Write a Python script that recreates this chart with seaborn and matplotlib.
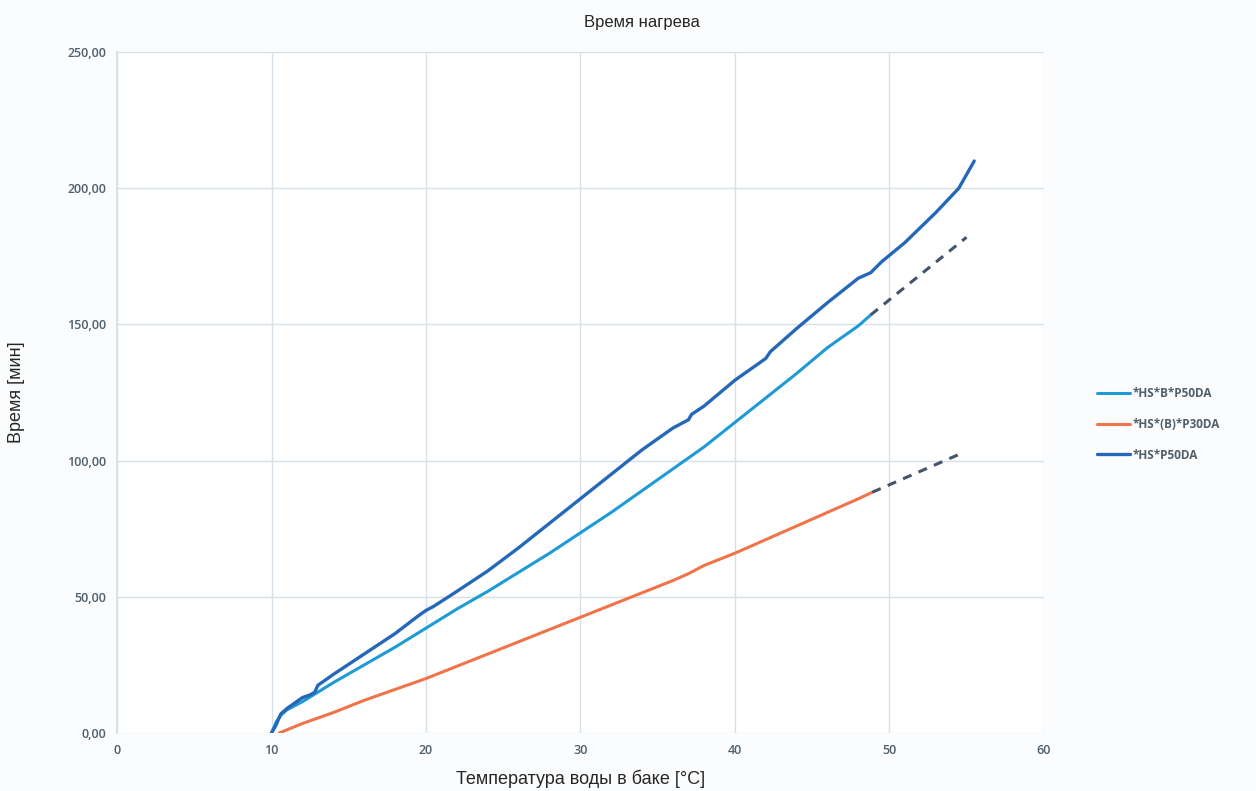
import numpy as np
import pandas as pd
import matplotlib
matplotlib.use("Agg")
import matplotlib.pyplot as plt
import seaborn as sns

# series: *HS*P50DA (dark blue)
temp_p50 = [10.0, 10.3, 10.6, 11.0, 11.5, 12.0, 12.5, 12.8, 13.0, 14, 16, 18, 19.5, 20, 20.5,
            22, 24, 26, 28, 30, 32, 34, 36, 37, 37.2, 38, 40, 42, 42.3, 44, 46, 48, 48.8,
            49.5, 51, 53, 54.5, 55.5]
time_p50 = [0, 3, 7, 9, 11, 13, 14, 15, 17.5, 21.5, 29, 36.5, 43, 45, 46.5,
            52, 59.5, 68, 77, 86, 95, 104, 112, 115, 117, 120, 129.5, 137.5, 140, 148.5, 158, 167, 169,
            173, 180, 191, 200, 210]

# series: *HS*B*P50DA (light blue) + dashed extension
temp_bp50 = [10.0, 10.3, 10.6, 11, 12, 13, 14, 16, 18, 20, 22, 24, 26, 28, 30, 32, 34, 36,
             37, 38, 40, 42, 44, 46, 48, 48.8]
time_bp50 = [0, 4, 6.5, 8.5, 11.5, 15, 18.5, 25, 31.5, 38.5, 45.5, 52, 59, 66, 73.5, 81, 89, 97,
             101, 105, 114, 123, 132, 141.5, 149.5, 153.5]
temp_bp50_ext = [48.8, 55.0]
time_bp50_ext = [153.5, 182]

# series: *HS*(B)*P30DA (orange) + dashed extension
temp_p30 = [10.5, 12, 14, 16, 18, 20, 22, 24, 26, 28, 30, 32, 34, 36, 37, 38, 40, 42, 44, 46, 48, 48.9]
time_p30 = [0, 3.5, 7.5, 12, 16, 20, 24.5, 29, 33.5, 38, 42.5, 47, 51.5, 56, 58.5, 61.5, 66, 71, 76,
            81, 86, 88.4]
temp_p30_ext = [48.9, 54.8]
time_p30_ext = [88.4, 103]

x_ticks = [0, 10, 20, 30, 40, 50, 60]
y_ticks = [0, 50, 100, 150, 200, 250]

sns.set_theme(style="white")
plt.rcParams['font.family'] = ['Liberation Sans', 'DejaVu Sans']

fig = plt.figure(figsize=(12.56, 7.91), dpi=100)
fig.patch.set_facecolor("#fbfcfd")
ax = fig.add_axes([0.0932, 0.0733, 0.7378, 0.8609])
ax.set_facecolor("white")

c_light = "#1e9ad6"
c_orange = "#f0744a"
c_dark = "#2568b8"
c_dash = "#44546a"

sns.lineplot(x=temp_bp50, y=time_bp50, ax=ax, color=c_light, lw=2.2, sort=False, label="*HS*B*P50DA")
sns.lineplot(x=temp_p30, y=time_p30, ax=ax, color=c_orange, lw=2.2, sort=False, label="*HS*(B)*P30DA")
sns.lineplot(x=temp_p50, y=time_p50, ax=ax, color=c_dark, lw=2.4, sort=False, label="*HS*P50DA")
ax.plot(temp_bp50_ext, time_bp50_ext, color=c_dash, lw=2.2, ls=(0, (3, 2.5)))
ax.plot(temp_p30_ext, time_p30_ext, color=c_dash, lw=2.2, ls=(0, (3, 2.5)))

ax.set_xlim(0, 60)
ax.set_ylim(0, 250)
ax.set_xticks(x_ticks)
ax.set_yticks(y_ticks)
ax.set_xticklabels([str(t) for t in x_ticks])
ax.set_yticklabels([f"{t:.2f}".replace(".", ",") for t in y_ticks])
ax.tick_params(axis="both", labelsize=9, labelcolor="#4f5f6b", length=0, pad=8)
for t in ax.get_xticklabels() + ax.get_yticklabels():
    t.set_fontfamily(["Open Sans", "DejaVu Sans"])
    t.set_fontweight("semibold")
ax.grid(True, color="#d6e0e8", lw=1)
for s in ax.spines.values():
    s.set_visible(False)
ax.spines["left"].set_visible(True)
ax.spines["left"].set_color("#d6e0e8")

ax.set_xlabel("Температура воды в баке [°C]", fontsize=13, labelpad=9)
ax.set_ylabel("Время [мин]", fontsize=13, labelpad=30)
fig.text(0.511, 0.972, "Время нагрева", ha="center", va="center", fontsize=12)

leg = ax.legend(loc="upper left", bbox_to_anchor=(0.869, 0.518), bbox_transform=fig.transFigure,
                frameon=False, borderpad=0, fontsize=8.5, handlelength=2.8, labelspacing=1.5,
                handletextpad=0.2, prop={"family": ["Open Sans", "DejaVu Sans"], "weight": "bold", "size": 8.5})
for t in leg.get_texts():
    t.set_color("#4f5f6b")

fig.savefig("out.png", dpi=100, facecolor=fig.get_facecolor())
